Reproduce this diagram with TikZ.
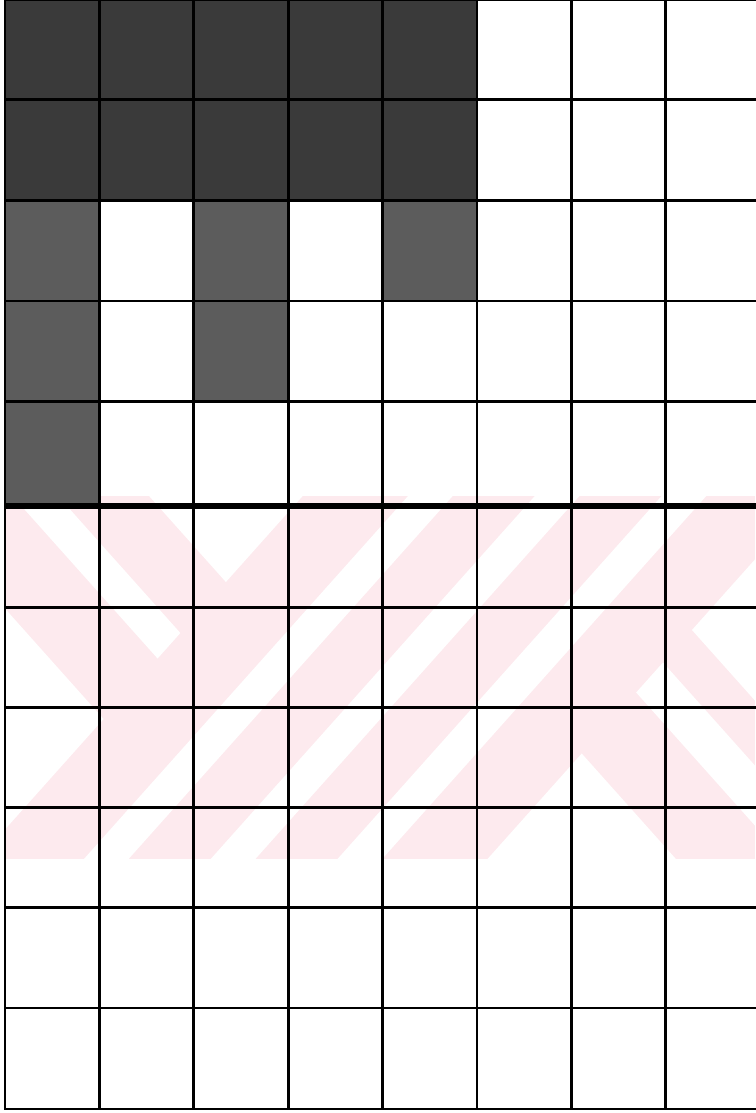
\documentclass[tikz,border=0pt]{standalone}
\definecolor{wmpink}{RGB}{253,234,238}
\definecolor{shadeA}{RGB}{58,58,58}
\definecolor{shadeB}{RGB}{92,92,92}
\begin{document}
\begin{tikzpicture}[x=1pt,y=-1pt,
  gridline/.style={line width=2.7pt,black,line cap=rect},
  thickrule/.style={line width=6.5pt,black},
  wmwhite/.style={fill=white,draw=none}]
\useasboundingbox (0,0) rectangle (755,1113);
\fill[white] (0,0) rectangle (755,1113);
% ---- faint watermark ----
\begin{scope}
  \clip (5,496) rectangle (755,859);
  \fill[wmpink] (5,496) rectangle (755,859);
  % left part: c<835
  \begin{scope}
    \clip (-200,1059) -- (1000,-285) -- (1000,-2000) -- (-200,-2000) -- cycle;
    \path[wmwhite] (-200,105) -- (1000,1449) -- (1000,-2000) -- (-200,-2000) -- cycle;
    \path[wmwhite] (-200,207) -- (1000,1551) -- (1000,1602) -- (-200,258) -- cycle;
    \path[wmwhite] (-200,379) -- (1000,1723) -- (1000,3000) -- (-200,3000) -- cycle;
  \end{scope}
  % middle stripes
  \path[wmwhite] (-200,1177) -- (1000,-167) -- (1000,-117) -- (-200,1227) -- cycle;
  \path[wmwhite] (-200,1319) -- (1000,-25) -- (1000,25) -- (-200,1369) -- cycle;
  \path[wmwhite] (-200,1461) -- (1000,117) -- (1000,167) -- (-200,1511) -- cycle;
  % right part: c>1405
  \begin{scope}
    \clip (-200,1629) -- (1000,285) -- (1000,3000) -- (-200,3000) -- cycle;
    \path[wmwhite] (-200,-369) -- (1000,975) -- (1000,-2000) -- (-200,-2000) -- cycle;
    \path[wmwhite] (-200,-304) -- (1000,1040) -- (1000,1100) -- (-200,-244) -- cycle;
    \path[wmwhite] (-200,-122) -- (1000,1222) -- (1000,3000) -- (-200,3000) -- cycle;
  \end{scope}
\end{scope}
% ---- shaded cells ----
\fill[shadeA] (5,0) rectangle (477,200.5);
\fill[shadeB] (5,200.5) rectangle (99.4,506);
\fill[shadeB] (193.8,200.5) rectangle (288.2,401.7);
\fill[shadeB] (382.6,200.5) rectangle (477,301);
% ---- grid ----
\foreach \gx in {5,99.4,193.8,288.2,382.6,477,571.4,665.8}
  \draw[gridline] (\gx,0) -- (\gx,1109);
\foreach \gy in {0,99.5,200.5,301,401.7,607.5,707.7,807.5,907.5,1008,1109}
  \draw[gridline] (5,\gy) -- (760,\gy);
\draw[thickrule] (5,506) -- (760,506);
\end{tikzpicture}
\end{document}
